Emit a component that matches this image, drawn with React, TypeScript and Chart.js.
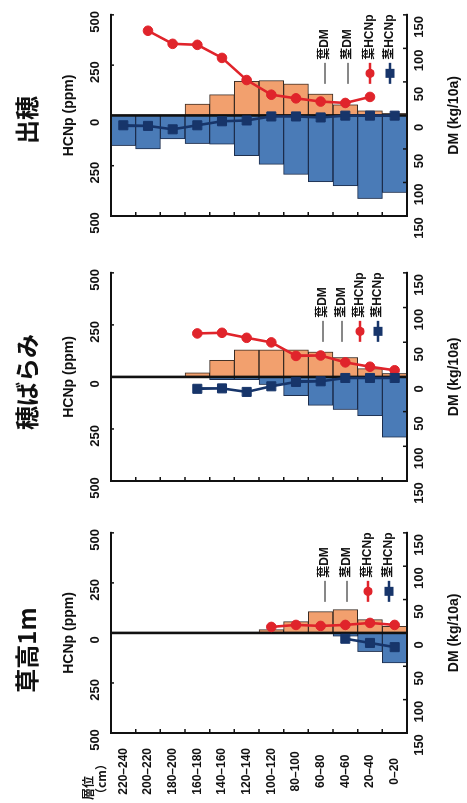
import React, { useEffect, useRef } from "react";
import { Chart, registerables } from "chart.js";

Chart.register(...registerables);

// ---------------- data ----------------
const layers = [
  "220–240", "200–220", "180–200", "160–180", "140–160", "120–140",
  "100–120", "80–100", "60–80", "40–60", "20–40", "0–20",
];

const seriesLabels = ["葉DM", "茎DM", "葉HCNp", "茎HCNp"];

// 出穂
const headingLeafDM = [null, null, null, 17, 31, 51, 52, 47, 32, 16, 7, 3];
const headingStemDM = [45, 50, 35, 42, 43, 60, 73, 88, 99, 105, 124, 115];
const headingLeafHCNp = [null, 421, 356, 351, 286, 176, 103, 85, 69, 62, 92, null];
const headingStemHCNp = [49, 52, 69, 49, 29, 25, 5, 5, 10, 1, 1, 1];

// 穂ばらみ
const bootingLeafDM = [null, null, null, 6, 24, 39, 39, 39, 36, 28, 12, 5];
const bootingStemDM = [null, null, null, null, 4, 4, 11, 27, 41, 47, 56, 87];
const bootingLeafHCNp = [null, null, null, 209, 212, 188, 166, 101, 103, 70, 49, 32];
const bootingStemHCNp = [null, null, null, 57, 55, 72, 45, 24, 21, 5, 5, 5];

// 草高1m
const h1mLeafDM = [null, null, null, null, null, null, 5, 17, 32, 35, 20, 10];
const h1mStemDM = [null, null, null, null, null, null, null, null, null, 5, 28, 45];
const h1mLeafHCNp = [null, null, null, null, null, null, 30, 40, 35, 40, 50, 40];
const h1mStemHCNp = [null, null, null, null, null, null, null, null, null, 29, 50, 71];

const hcnpMax = 500;
const hcnpStep = 250;
const dmMax = 150;
const dmStep = 50;

// ---------------- style / layout ----------------
const INK = "#111";
const LEAF_FILL = "#F2A06E";
const LEAF_EDGE = "#3a2c24";
const STEM_FILL = "#4A7BB7";
const STEM_EDGE = "#1c2d4c";
const RED = "#E0242B";
const NAVY = "#17356A";

const FIG_W = 803;
const FIG_H = 467;
const PLOT_TOP = 111;
const PLOT_BOTTOM = 407;
const LEFT_AXIS_W = 70;
const RIGHT_PAD = 16;
const CJK = "'Noto Sans CJK JP', 'Liberation Sans', sans-serif";
const LATIN = "'Liberation Sans', Arial, 'Noto Sans CJK JP', sans-serif";

Chart.defaults.font.family = LATIN;

type Num = number | null;
type PanelCfg = {
  key: string;
  title: string;
  titleCenter: number;
  plotLeft: number;
  plotRight: number;
  leafDM: Num[];
  stemDM: Num[];
  leafHCNp: Num[];
  stemHCNp: Num[];
  showLayers: boolean;
  legendRows: number[];
};

const panels: PanelCfg[] = [
  {
    key: "h1m", title: "草高1m", titleCenter: 153, plotLeft: 70, plotRight: 273,
    leafDM: h1mLeafDM, stemDM: h1mStemDM, leafHCNp: h1mLeafHCNp, stemHCNp: h1mStemHCNp,
    showLayers: true, legendRows: [82, 60, 39, 18],
  },
  {
    key: "boot", title: "穂ばらみ", titleCenter: 421, plotLeft: 322, plotRight: 533,
    leafDM: bootingLeafDM, stemDM: bootingStemDM, leafHCNp: bootingLeafHCNp, stemHCNp: bootingStemHCNp,
    showLayers: false, legendRows: [84, 65, 47, 29],
  },
  {
    key: "head", title: "出穂", titleCenter: 683, plotLeft: 587, plotRight: 791,
    leafDM: headingLeafDM, stemDM: headingStemDM, leafHCNp: headingLeafHCNp, stemHCNp: headingStemHCNp,
    showLayers: false, legendRows: [82, 59, 37, 17],
  },
];

const neg = (arr: Num[]) => arr.map((v) => (v == null ? null : -v));
const absLabel = (v: any) => String(Math.abs(Number(v)));

function drawZero(chart: any) {
  const { ctx, chartArea: a, scales } = chart;
  const x0 = scales.xD.getPixelForValue(0);
  ctx.save();
  ctx.strokeStyle = INK;
  ctx.lineWidth = 2.6;
  ctx.beginPath();
  ctx.moveTo(x0, a.top);
  ctx.lineTo(x0, a.bottom);
  ctx.stroke();
  ctx.restore();
}

function drawFrame(chart: any) {
  const { ctx, chartArea: a, scales } = chart;
  ctx.save();
  ctx.strokeStyle = INK;
  ctx.lineWidth = 2;
  ctx.lineCap = "square";
  ctx.beginPath();
  ctx.moveTo(a.right, a.top);
  ctx.lineTo(a.left, a.top);
  ctx.lineTo(a.left, a.bottom);
  ctx.lineTo(a.right, a.bottom);
  ctx.stroke();

  ctx.lineWidth = 1.5;
  ctx.lineCap = "butt";
  ctx.beginPath();
  scales.xH.ticks.forEach((t: any) => {
    if (t.value === 0 || t.value === -hcnpMax) return;
    const x = scales.xH.getPixelForValue(t.value);
    ctx.moveTo(x, a.top);
    ctx.lineTo(x, a.top + 3);
  });
  scales.xD.ticks.forEach((t: any) => {
    if (t.value === 0 || t.value === -dmMax) return;
    const x = scales.xD.getPixelForValue(t.value);
    ctx.moveTo(x, a.bottom);
    ctx.lineTo(x, a.bottom - 4);
  });
  for (let i = 1; i < layers.length; i++) {
    const y = scales.y.getPixelForValue(i - 0.5);
    ctx.moveTo(a.left, y);
    ctx.lineTo(a.left + 4, y);
  }
  ctx.stroke();
  ctx.restore();
}

function drawLegend(chart: any) {
  const { ctx, chartArea: a } = chart;
  const rows: number[] = chart.options.plugins.frameLegend.rows;
  const ds = chart.data.datasets;
  const x1 = a.right - 69;
  const x2 = a.right - 48;
  const tx = a.right - 45;
  ctx.save();
  ds.forEach((d: any, i: number) => {
    const y = a.bottom - rows[i];
    ctx.beginPath();
    if (d.type === "bar") {
      ctx.strokeStyle = INK;
      ctx.lineWidth = 1;
    } else {
      ctx.strokeStyle = d.borderColor;
      ctx.lineWidth = 2.5;
    }
    ctx.moveTo(x1, y);
    ctx.lineTo(x2, y);
    ctx.stroke();
    if (d.type === "line") {
      ctx.fillStyle = d.backgroundColor;
      const cx = (x1 + x2) / 2;
      if (d.pointStyle === "rect") {
        ctx.fillRect(cx - 4.5, y - 4.5, 9, 9);
      } else {
        ctx.beginPath();
        ctx.arc(cx, y, 4.6, 0, Math.PI * 2);
        ctx.fill();
      }
    }
    ctx.fillStyle = INK;
    ctx.font = `bold 12px ${LATIN}`;
    ctx.textAlign = "left";
    ctx.textBaseline = "middle";
    ctx.fillText(d.label, tx, y);
  });
  ctx.restore();
}

const frameLegendPlugin = {
  id: "frameLegend",
  beforeDatasetsDraw(chart: any) {
    chart.$zeroDrawn = false;
  },
  beforeDatasetDraw(chart: any, args: any) {
    if (!chart.$zeroDrawn && args.meta.type === "line") {
      drawZero(chart);
      chart.$zeroDrawn = true;
    }
  },
  afterDatasetsDraw(chart: any) {
    if (!chart.$zeroDrawn) drawZero(chart);
    drawFrame(chart);
    drawLegend(chart);
  },
};

function PanelChart({ cfg }: { cfg: PanelCfg }) {
  const ref = useRef<HTMLCanvasElement>(null);
  const left = cfg.plotLeft - LEFT_AXIS_W;
  const width = cfg.plotRight + RIGHT_PAD - left;

  useEffect(() => {
    const barCommon = {
      type: "bar" as const,
      xAxisID: "xD",
      yAxisID: "y",
      indexAxis: "y" as const,
      borderWidth: 1,
      borderSkipped: false,
      grouped: false,
      categoryPercentage: 1,
      barPercentage: 1,
      order: 2,
    };
    const lineCommon = {
      type: "line" as const,
      xAxisID: "xH",
      yAxisID: "y",
      indexAxis: "y" as const,
      borderWidth: 2.6,
      pointBorderWidth: 1,
      tension: 0,
      fill: false,
    };
    const chart = new Chart(ref.current as HTMLCanvasElement, {
      type: "bar",
      data: {
        labels: layers,
        datasets: [
          { ...barCommon, label: seriesLabels[0], data: cfg.leafDM, backgroundColor: LEAF_FILL, borderColor: LEAF_EDGE },
          { ...barCommon, label: seriesLabels[1], data: neg(cfg.stemDM), backgroundColor: STEM_FILL, borderColor: STEM_EDGE },
          {
            ...lineCommon, label: seriesLabels[2], data: cfg.leafHCNp,
            borderColor: RED, backgroundColor: RED, pointBackgroundColor: RED, pointBorderColor: RED,
            pointStyle: "circle", pointRadius: 4.8, order: 1,
          },
          {
            ...lineCommon, label: seriesLabels[3], data: neg(cfg.stemHCNp),
            borderColor: NAVY, backgroundColor: NAVY, pointBackgroundColor: NAVY, pointBorderColor: NAVY,
            pointStyle: "rect", pointRadius: 6.4, order: 0,
          },
        ] as any,
      },
      options: {
        responsive: false,
        animation: false,
        indexAxis: "y",
        layout: { padding: { left: 0, right: RIGHT_PAD, top: 0, bottom: 0 } },
        plugins: {
          legend: { display: false },
          tooltip: { enabled: false },
          frameLegend: { rows: cfg.legendRows },
        } as any,
        scales: {
          y: {
            type: "category",
            position: "left",
            offset: true,
            grid: { display: false, drawTicks: false },
            border: { display: false },
            ticks: {
              display: cfg.showLayers,
              autoSkip: false,
              crossAlign: "center",
              padding: 15,
              color: INK,
              font: { size: 12, weight: "bold", family: LATIN },
            },
            afterFit: (s: any) => { s.width = LEFT_AXIS_W; },
          },
          xH: {
            type: "linear",
            axis: "x",
            position: "top",
            min: -hcnpMax,
            max: hcnpMax,
            grid: { display: false, drawTicks: false },
            border: { display: false },
            ticks: {
              stepSize: hcnpStep,
              callback: absLabel,
              padding: 8,
              labelOffset: -7,
              maxRotation: 0,
              autoSkip: false,
              color: INK,
              font: { size: 13, weight: "bold", family: LATIN },
            },
            title: {
              display: true,
              text: "HCNp (ppm)",
              color: INK,
              font: { size: 14, weight: "bold", family: LATIN },
              padding: { top: 61, bottom: 0 },
            },
            afterFit: (s: any) => { s.height = PLOT_TOP; },
          },
          xD: {
            type: "linear",
            axis: "x",
            position: "bottom",
            min: -dmMax,
            max: dmMax,
            grid: { display: false, drawTicks: false },
            border: { display: false },
            ticks: {
              stepSize: dmStep,
              callback: absLabel,
              padding: 5,
              labelOffset: -12,
              maxRotation: 0,
              autoSkip: false,
              color: INK,
              font: { size: 13, weight: "bold", family: LATIN },
            },
            title: {
              display: true,
              text: "DM (kg/10a)",
              color: INK,
              font: { size: 14, weight: "bold", family: LATIN },
              padding: { top: 0, bottom: 4 },
            },
            afterFit: (s: any) => { s.height = FIG_H - PLOT_BOTTOM; },
          },
        } as any,
      },
      plugins: [frameLegendPlugin],
    });
    return () => chart.destroy();
  }, [cfg]);

  return (
    <canvas
      ref={ref}
      width={width}
      height={FIG_H}
      style={{ position: "absolute", left, top: 0, width, height: FIG_H }}
    />
  );
}

export default function App() {
  return (
    <div
      style={{
        position: "fixed",
        left: 0,
        top: 0,
        width: FIG_W,
        height: FIG_H,
        transformOrigin: "0 0",
        transform: `translate(0px, ${FIG_W}px) rotate(-90deg)`,
        background: "#fff",
        overflow: "hidden",
      }}
    >
      {panels.map((p) => (
        <PanelChart key={p.key} cfg={p} />
      ))}
      {panels.map((p) => (
        <div
          key={p.key + "-title"}
          style={{
            position: "absolute",
            left: p.titleCenter - 80,
            width: 160,
            top: 12,
            textAlign: "center",
            font: `bold 24px ${CJK}`,
            lineHeight: "28px",
            color: INK,
          }}
        >
          {p.title}
        </div>
      ))}
      <div
        style={{
          position: "absolute",
          left: 3,
          top: 81,
          font: `bold 12px ${CJK}`,
          lineHeight: "13px",
          color: INK,
        }}
      >
        層位
        <br />
        （cm）
      </div>
    </div>
  );
}
